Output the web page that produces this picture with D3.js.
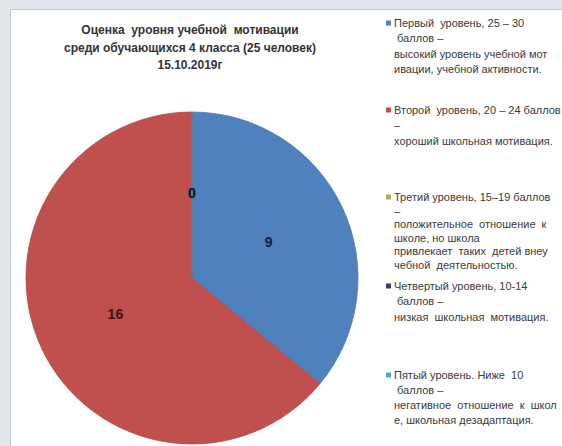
<!DOCTYPE html>
<html>
<head>
  <meta charset="utf-8">
  <title>Оценка уровня учебной мотивации</title>
  <style>
    body { margin: 0; background: #e3e7ec; }
    svg { display: block; }
  </style>
</head>
<body>
  <svg id="chart"></svg>

  <script src="https://d3js.org/d3.v7.min.js"></script>
  <script>
    // Данные
    const levels = ["Первый уровень", "Второй уровень", "Третий уровень", "Четвертый уровень", "Пятый уровень"];
    const counts = [9, 16, 0, 0, 0];
    const colors = ["#4f81bd", "#c0504d", "#9bbb59", "#3f3a6e", "#4bacc6"];
    const titleLines = ["Оценка  уровня учебной  мотивации", "среди обучающихся 4 класса (25 человек)", "15.10.2019г"];
    // Тексты легенды (как перенесено на картинке)
    const legendLines = [
      ["Первый  уровень, 25 – 30", " баллов –", "высокий уровень учебной мот", "ивации, учебной активности."],
      ["Второй  уровень, 20 – 24 баллов", "–", "хороший школьная мотивация."],
      ["Третий уровень, 15–19 баллов", "–", "положительное  отношение  к", "школе, но школа", "привлекает  таких  детей внеу", "чебной  деятельностью."],
      ["Четвертый уровень, 10-14", " баллов –", "низкая  школьная  мотивация."],
      ["Пятый уровень. Ниже  10", " баллов –", "негативное  отношение  к  школ", "е, школьная дезадаптация."]
    ];

    const width = 562;
    const height = 446;
    const cx = 192, cy = 278, radius = 166;
    // базовая линия первой строки и шаг строк каждого пункта легенды
    const legendY = [27, 114, 201, 290, 379];
    const legendStep = [15.3, 15.3, 13.6, 15.3, 15];

    const svg = d3.select("#chart")
      .attr("width", width)
      .attr("height", height);

    // область диаграммы
    svg.append("rect")
      .attr("x", 10.5).attr("y", 9.5)
      .attr("width", width).attr("height", height)
      .attr("fill", "#fff")
      .attr("stroke", "#c3c8cf");

    // заголовок
    svg.append("text")
      .attr("x", 190)
      .attr("y", 34)
      .attr("text-anchor", "middle")
      .style("font-family", "'Liberation Sans', Arial, sans-serif")
      .style("font-size", "12px")
      .style("font-weight", "bold")
      .style("white-space", "pre")
      .attr("fill", "#333")
      .selectAll("tspan")
      .data(titleLines)
      .enter().append("tspan")
      .attr("x", 190)
      .attr("dy", (d, i) => i === 0 ? 0 : 17.5)
      .text(d => d);

    const data = levels.map((l, i) => ({ level: l, count: counts[i], color: colors[i] }));

    const pie = d3.pie().value(d => d.count).sort(null);
    const arc = d3.arc().innerRadius(0).outerRadius(radius);
    const labelArc = d3.arc().innerRadius(radius * 0.51).outerRadius(radius * 0.51);

    const g = svg.append("g").attr("transform", `translate(${cx},${cy})`);

    const arcs = g.selectAll(".arc")
      .data(pie(data))
      .enter().append("g")
      .attr("class", "arc");

    arcs.append("path")
      .attr("d", arc)
      .attr("fill", d => d.data.color)
      .attr("stroke", d => d3.color(d.data.color).darker(0.2))
      .attr("stroke-width", 0.8);

    arcs.append("text")
      .attr("transform", d => `translate(${labelArc.centroid(d)})`)
      .attr("text-anchor", "middle")
      .attr("dy", "0.35em")
      .style("font-family", "'Liberation Sans', Arial, sans-serif")
      .style("font-size", "14px")
      .style("font-weight", "bold")
      .attr("fill", d => d.data.count === 16 ? "#3b1010" : "#14213d")
      .text(d => d.data.count);

    // легенда
    const legend = svg.append("g")
      .style("font-family", "'Liberation Sans', Arial, sans-serif")
      .style("font-size", "11px");

    const items = legend.selectAll(".legend-item")
      .data(data)
      .enter().append("g")
      .attr("class", "legend-item")
      .attr("transform", (d, i) => `translate(386,${legendY[i]})`);

    items.append("rect")
      .attr("x", 0).attr("y", -6.5)
      .attr("width", 5).attr("height", 5)
      .attr("fill", d => d.color);

    items.append("text")
      .attr("fill", "#3a3a3a")
      .style("white-space", "pre")
      .selectAll("tspan")
      .data((d, i) => legendLines[i].map(t => ({ t, step: legendStep[i] })))
      .enter().append("tspan")
      .attr("x", 8)
      .attr("dy", (d, i) => i === 0 ? 0 : d.step)
      .text(d => d.t);
  </script>
</body>
</html>
